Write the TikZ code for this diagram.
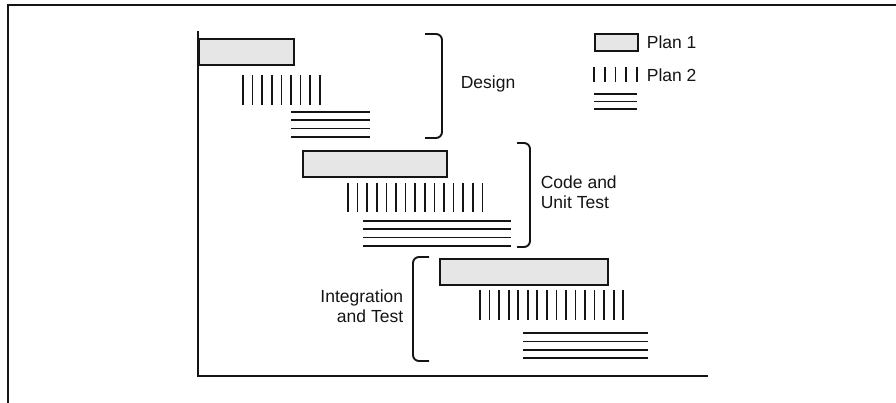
\documentclass[tikz,border=0pt]{standalone}
\usepackage{fontspec}
\setmainfont{Liberation Sans}
\definecolor{barfill}{RGB}{230,230,230}
\definecolor{ink}{RGB}{20,20,20}
\begin{document}
\begin{tikzpicture}[x=1pt,y=-1pt,line width=1.7pt,draw=ink,
  bar/.style={draw=ink,fill=barfill,line width=1.9pt,rectangle,inner sep=0pt,anchor=north west},
  lbl/.style={font=\fontsize{17.5}{19.5}\selectfont,text=ink,inner sep=0pt},
  brace/.style={draw=ink,line width=1.9pt,rounded corners=6pt}]
\useasboundingbox (0,0) rectangle (896,403);
% frame
\draw[line width=2pt] (8,403) -- (8,5) -- (896,5);
% axes
\coordinate (ax0) at (198,376);
\coordinate (axtop) at (198,31);
\coordinate (axend) at (708,376);
\draw (axtop) -- (ax0) -- (axend);
% Design
\node[bar,minimum width=95pt,minimum height=26pt] (d1) at (198,38) {};
\foreach \i in {0,...,8} \draw (243+\i*9.6,75) -- ++(0,30);
\foreach \j in {0,...,3} \draw (291,112+\j*8.3) -- ++(79,0);
\draw[brace] (425,34) -- (442,34) -- (442,138) -- (425,138);
\node[lbl,anchor=west] (design) at (460,84) {Design};
% Code and Unit Test
\node[bar,minimum width=144pt,minimum height=26pt] (c1) at (302,150) {};
\foreach \i in {0,...,14} \draw (348+\i*9.6,183) -- ++(0,29);
\foreach \j in {0,...,3} \draw (363,221+\j*8.3) -- ++(148,0);
\draw[brace] (517,143) -- (530,143) -- (530,247) -- (517,247);
\node[lbl,anchor=west,align=left] (code) at (540,192) {Code and\\Unit Test};
% Integration and Test
\node[bar,minimum width=168pt,minimum height=26pt] (i1) at (439,258) {};
\foreach \i in {0,...,15} \draw (480+\i*9.55,290) -- ++(0,30);
\foreach \j in {0,...,3} \draw (523,333+\j*8.4) -- ++(125,0);
\draw[brace] (429,257) -- (413,257) -- (413,361) -- (429,361);
\node[lbl,anchor=east,align=right] (integ) at (404,306) {Integration\\and Test};
% Legend
\node[bar,minimum width=43pt,minimum height=17pt] (l1) at (594,33) {};
\node[lbl,anchor=west] (p1) at (646,42) {Plan 1};
\foreach \i in {0,...,4} \draw (594+\i*10.75,67) -- ++(0,15);
\node[lbl,anchor=west] (p2) at (646,75) {Plan 2};
\foreach \j in {0,...,2} \draw (594,94+\j*7.5) -- ++(43,0);
\end{tikzpicture}
\end{document}
